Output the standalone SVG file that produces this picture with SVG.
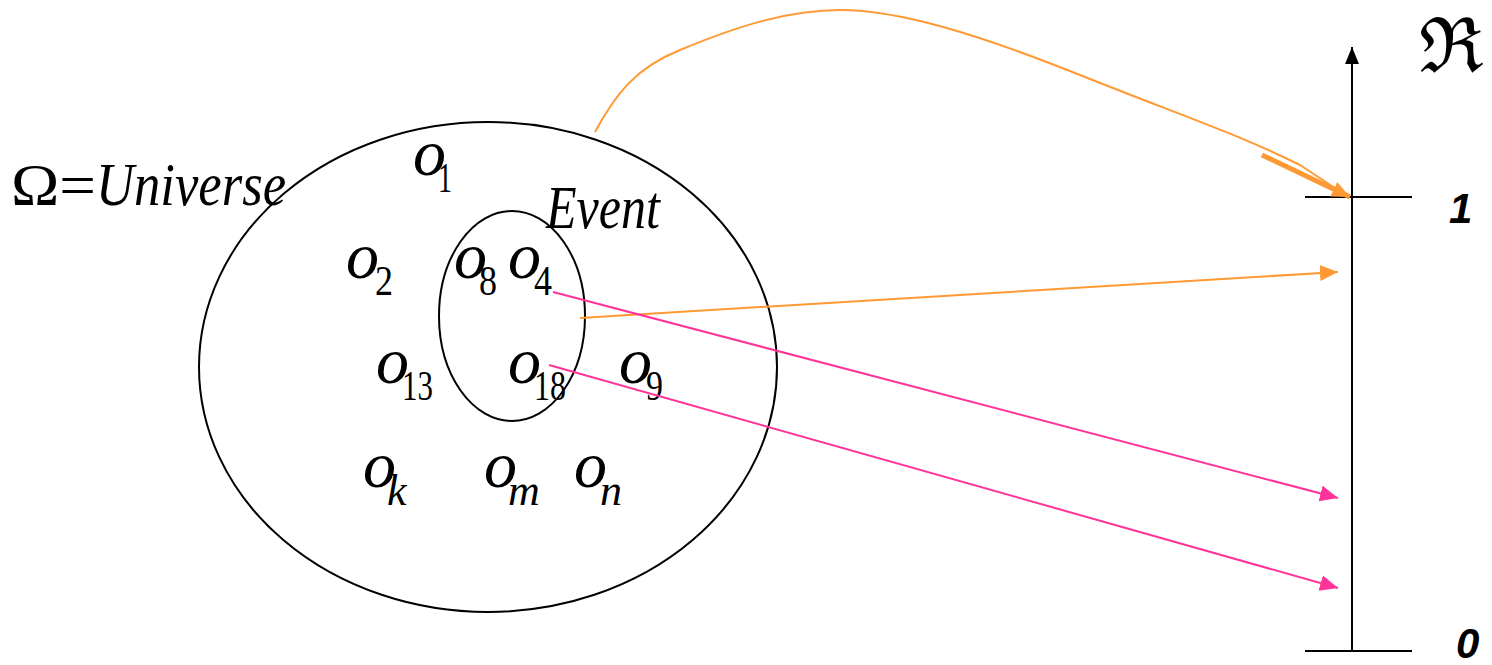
<svg xmlns="http://www.w3.org/2000/svg" width="1492" height="665" viewBox="0 0 1492 665">
<style>
.sh{fill:none;stroke:#000;stroke-width:2}
.t{font-family:"Liberation Serif","Times New Roman",serif;fill:#000}
.it{font-style:italic}
.o{font-family:"Liberation Serif","Times New Roman",serif;font-style:italic;font-size:66px}
.s{font-family:"Liberation Serif","Times New Roman",serif;font-size:42px}
.si{font-family:"Liberation Serif","Times New Roman",serif;font-style:italic;font-size:44px}
.ax{font-family:"Liberation Sans",Arial,sans-serif;font-weight:bold;font-style:italic;font-size:42px}
.or{fill:none;stroke:#FF9933;stroke-width:2}
.pk{fill:none;stroke:#FF3399;stroke-width:2}
</style>
<defs>
<marker id="ao" markerUnits="userSpaceOnUse" markerWidth="20" markerHeight="18" refX="18" refY="8" orient="auto"><path d="M0,0 L18,8 L0,16 z" fill="#FF9933"/></marker>
<marker id="ap" markerUnits="userSpaceOnUse" markerWidth="20" markerHeight="18" refX="18" refY="8" orient="auto"><path d="M0,0 L18,8 L0,16 z" fill="#FF3399"/></marker>
<marker id="ak" markerUnits="userSpaceOnUse" markerWidth="20" markerHeight="16" refX="17" refY="7" orient="auto"><path d="M0,0 L17,7 L0,14 z" fill="#000"/></marker>
</defs>
<g id="universe">
<ellipse class="sh" cx="488" cy="367" rx="289" ry="245"/>
<text class="t" x="11" y="205" font-size="60" textLength="85" lengthAdjust="spacingAndGlyphs">Ω=</text>
<text class="t it" x="96" y="205" font-size="62" textLength="190" lengthAdjust="spacingAndGlyphs">Universe</text>
</g>
<g id="event">
<ellipse class="sh" cx="512" cy="316" rx="73" ry="105"/>
<text class="t it" x="546" y="228" font-size="62" textLength="114" lengthAdjust="spacingAndGlyphs">Event</text>
</g>
<g id="outcomes">
<text class="o" x="413" y="175">o</text><text class="s" x="438" y="192" textLength="14" lengthAdjust="spacingAndGlyphs">1</text>
<text class="o" x="346" y="278">o</text><text class="s" x="375" y="295" textLength="18" lengthAdjust="spacingAndGlyphs">2</text>
<text class="o" x="454" y="278">o</text><text class="s" x="479" y="295" textLength="18" lengthAdjust="spacingAndGlyphs">8</text>
<text class="o" x="508" y="278">o</text><text class="s" x="534" y="295" textLength="18" lengthAdjust="spacingAndGlyphs">4</text>
<text class="o" x="376" y="383">o</text><text class="s" x="402" y="400" textLength="31" lengthAdjust="spacingAndGlyphs">13</text>
<text class="o" x="508" y="383">o</text><text class="s" x="534" y="400" textLength="32" lengthAdjust="spacingAndGlyphs">18</text>
<text class="o" x="619" y="383">o</text><text class="s" x="646" y="400" textLength="17" lengthAdjust="spacingAndGlyphs">9</text>
<text class="o" x="363" y="487">o</text><text class="si" x="387" y="505">k</text>
<text class="o" x="484" y="487">o</text><text class="si" x="508" y="505">m</text>
<text class="o" x="574" y="487">o</text><text class="si" x="600" y="505">n</text>
</g>
<g id="axis">
<line class="sh" x1="1352" y1="652" x2="1352" y2="47" marker-end="url(#ak)"/>
<line class="sh" x1="1305" y1="197" x2="1412" y2="197"/>
<line class="sh" x1="1305" y1="651" x2="1412" y2="651"/>
<text class="ax" x="1449" y="223">1</text>
<text class="ax" x="1456" y="658">0</text>
<text x="1419" y="72" font-family="DejaVu Serif,serif" font-size="76">ℜ</text>
</g>
<g id="connectors">
<path class="or" d="M595,132 C615,95 635,68 680,50 C740,25 790,10 840,10 C900,10 980,35 1080,75 C1180,115 1240,135 1300,165 L1335,188"/>
<path d="M1262,155 L1350,197" stroke="#FF9933" stroke-width="5" fill="none" marker-end="url(#ao)"/>
<line class="or" x1="580" y1="318" x2="1338" y2="272" marker-end="url(#ao)"/>
<line class="pk" x1="553" y1="292" x2="1338" y2="498" marker-end="url(#ap)"/>
<line class="pk" x1="549" y1="365" x2="1338" y2="588" marker-end="url(#ap)"/>
</g>
</svg>
